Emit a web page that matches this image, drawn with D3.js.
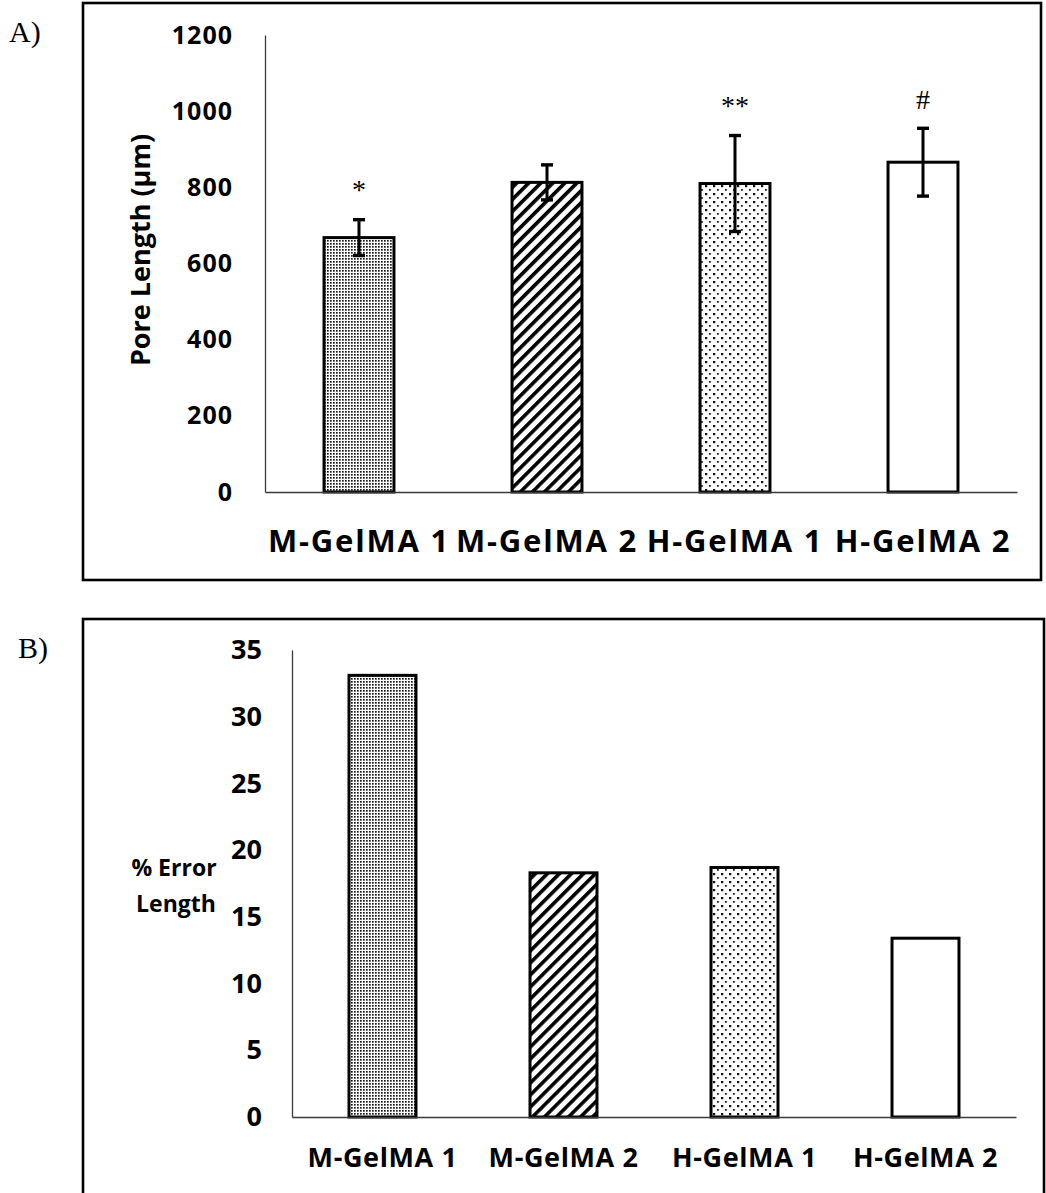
<!DOCTYPE html>
<html>
<head>
<meta charset="utf-8">
<script src="https://cdn.jsdelivr.net/npm/d3@7"></script>
<style>
  html, body { margin: 0; padding: 0; background: #fff; }
  svg { display: block; }
  .tick text { font-family: "Open Sans", sans-serif; font-weight: 700; fill: #000; }
  .axis .domain { stroke: #3a3a3a; stroke-width: 1.3px; }
</style>
</head>
<body>
<svg id="fig" width="1046" height="1193"></svg>
<script>
// Hydrogel groups
const categories = ["M-GelMA 1", "M-GelMA 2", "H-GelMA 1", "H-GelMA 2"];
// Panel A: mean pore length (µm) and standard deviation
const poreLength = [668, 813, 810, 866];
const poreLengthSD = [47, 46, 126, 89];
const significance = ["*", "", "**", "#"];
const poreTicks = [0, 200, 400, 600, 800, 1000, 1200];
// Panel B: percent error of pore length
const errorLength = [33.1, 18.3, 18.7, 13.4];
const errorTicks = [0, 5, 10, 15, 20, 25, 30, 35];
// Fill pattern per group
const fills = ["url(#dense-dots)", "url(#diag)", "url(#sparse-dots)", "#fff"];

const svg = d3.select("#fig");
const defs = svg.append("defs");

// dense fine dot fill
const pd = defs.append("pattern").attr("id", "dense-dots")
  .attr("patternUnits", "userSpaceOnUse").attr("width", 3).attr("height", 3);
pd.append("rect").attr("width", 3).attr("height", 3).attr("fill", "#fff");
pd.append("rect").attr("x", 0).attr("y", 0).attr("width", 1.7).attr("height", 1.7).attr("fill", "#1a1a1a");

// wide upward diagonal stripes
const pg = defs.append("pattern").attr("id", "diag")
  .attr("patternUnits", "userSpaceOnUse").attr("width", 8.5).attr("height", 8.5)
  .attr("patternTransform", "rotate(45)");
pg.append("rect").attr("width", 8.5).attr("height", 8.5).attr("fill", "#fff");
pg.append("rect").attr("x", 0).attr("y", 0).attr("width", 3.6).attr("height", 8.5).attr("fill", "#000");

// sparse staggered dots
const ps = defs.append("pattern").attr("id", "sparse-dots")
  .attr("patternUnits", "userSpaceOnUse").attr("width", 8).attr("height", 8);
ps.append("rect").attr("width", 8).attr("height", 8).attr("fill", "#fff");
ps.append("rect").attr("x", 1).attr("y", 1).attr("width", 2.2).attr("height", 2.2).attr("fill", "#111");
ps.append("rect").attr("x", 5).attr("y", 5).attr("width", 1.8).attr("height", 1.8).attr("fill", "#222");

// panel frames
svg.append("rect").attr("x", 83).attr("y", 3).attr("width", 958).attr("height", 577)
  .attr("fill", "none").attr("stroke", "#000").attr("stroke-width", 2.6);
svg.append("rect").attr("x", 83).attr("y", 619).attr("width", 961).attr("height", 600)
  .attr("fill", "none").attr("stroke", "#000").attr("stroke-width", 2.6);

// panel letters
svg.append("text").attr("x", 9).attr("y", 42).text("A)")
  .attr("font-family", "'Liberation Serif', serif").attr("font-size", 30);
svg.append("text").attr("x", 18).attr("y", 658).text("B)")
  .attr("font-family", "'Liberation Serif', serif").attr("font-size", 30);

// ---------- Panel A ----------
const xA = d3.scaleBand().domain(categories).range([265, 1017])
  .paddingInner(0.628).paddingOuter(0.314);
const yA = d3.scaleLinear().domain([0, 1200]).range([492, 35]);

const gA = svg.append("g");
gA.selectAll("rect.bar").data(categories).join("rect")
  .attr("class", "bar")
  .attr("x", d => xA(d))
  .attr("y", (d, i) => yA(poreLength[i]))
  .attr("width", xA.bandwidth())
  .attr("height", (d, i) => yA(0) - yA(poreLength[i]))
  .attr("fill", (d, i) => fills[i])
  .attr("stroke", "#000").attr("stroke-width", 3);

// error bars
const eb = gA.selectAll("g.err").data(categories).join("g").attr("class", "err");
eb.append("line")
  .attr("x1", d => xA(d) + xA.bandwidth() / 2).attr("x2", d => xA(d) + xA.bandwidth() / 2)
  .attr("y1", (d, i) => yA(poreLength[i] + poreLengthSD[i]))
  .attr("y2", (d, i) => yA(poreLength[i] - poreLengthSD[i]))
  .attr("stroke", "#000").attr("stroke-width", 3);
[1, -1].forEach(s => {
  eb.append("line")
    .attr("x1", d => xA(d) + xA.bandwidth() / 2 - 6).attr("x2", d => xA(d) + xA.bandwidth() / 2 + 6)
    .attr("y1", (d, i) => yA(poreLength[i] + s * poreLengthSD[i]))
    .attr("y2", (d, i) => yA(poreLength[i] + s * poreLengthSD[i]))
    .attr("stroke", "#000").attr("stroke-width", 3.4);
});

// significance marks
gA.selectAll("text.sig").data(categories).join("text")
  .attr("class", "sig")
  .attr("x", d => xA(d) + xA.bandwidth() / 2)
  .attr("y", (d, i) => yA(poreLength[i] + poreLengthSD[i]) - (significance[i] === "#" ? 19 : 21))
  .attr("text-anchor", "middle")
  .attr("font-family", "'Liberation Serif', serif").attr("font-size", 28)
  .text((d, i) => significance[i]);

// axes
const axA = gA.append("g").attr("class", "axis").attr("transform", "translate(265,0)")
  .call(d3.axisLeft(yA).tickValues(poreTicks).tickFormat(d3.format("d"))
    .tickSize(0).tickSizeOuter(0).tickPadding(32));
axA.selectAll(".tick text").attr("font-size", 25).attr("letter-spacing", 1);
const axAx = gA.append("g").attr("class", "axis").attr("transform", "translate(0,492)")
  .call(d3.axisBottom(xA).tickSize(0).tickSizeOuter(0).tickPadding(38));
axAx.selectAll(".tick text").attr("font-size", 31).attr("letter-spacing", 1.8);

gA.append("text")
  .attr("transform", "translate(150,250) rotate(-90)")
  .attr("text-anchor", "middle")
  .attr("font-family", "'Open Sans', sans-serif").attr("font-weight", 700).attr("font-size", 27)
  .text("Pore Length (µm)");

// ---------- Panel B ----------
const xB = d3.scaleBand().domain(categories).range([292, 1016])
  .paddingInner(0.63).paddingOuter(0.315);
const yB = d3.scaleLinear().domain([0, 35]).range([1117, 650]);

const gB = svg.append("g");
gB.selectAll("rect.bar").data(categories).join("rect")
  .attr("class", "bar")
  .attr("x", d => xB(d))
  .attr("y", (d, i) => yB(errorLength[i]))
  .attr("width", xB.bandwidth())
  .attr("height", (d, i) => yB(0) - yB(errorLength[i]))
  .attr("fill", (d, i) => fills[i])
  .attr("stroke", "#000").attr("stroke-width", 3);

const axB = gB.append("g").attr("class", "axis").attr("transform", "translate(292,0)")
  .call(d3.axisLeft(yB).tickValues(errorTicks).tickFormat(d3.format("d"))
    .tickSize(0).tickSizeOuter(0).tickPadding(30));
axB.selectAll(".tick text").attr("font-size", 27);
const axBx = gB.append("g").attr("class", "axis").attr("transform", "translate(0,1117)")
  .call(d3.axisBottom(xB).tickSize(0).tickSizeOuter(0).tickPadding(31));
axBx.selectAll(".tick text").attr("font-size", 27).attr("letter-spacing", 0.6);

const tB = gB.append("text")
  .attr("text-anchor", "middle")
  .attr("font-family", "'Open Sans', sans-serif").attr("font-weight", 700).attr("font-size", 23);
tB.append("tspan").attr("x", 174).attr("y", 876).text("% Error");
tB.append("tspan").attr("x", 176).attr("y", 912).text("Length");
</script>
</body>
</html>
